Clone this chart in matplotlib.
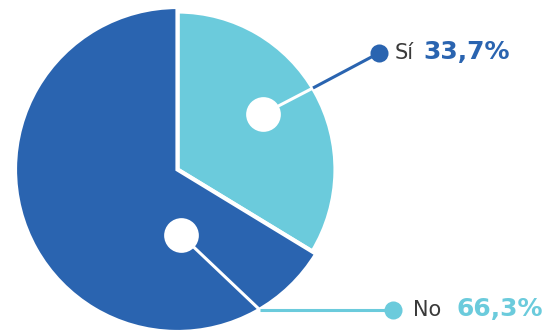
import matplotlib
matplotlib.use("Agg")
import matplotlib.pyplot as plt

# Survey answers
labels = ["Sí", "No"]
shares = [33.7, 66.3]
value_texts = ["33,7%", "66,3%"]

DARK = "#2a64b0"
LIGHT = "#6bcbdc"
GRAY = "#3a3a3a"

W, H = 552, 331
fig = plt.figure(figsize=(W / 100, H / 100), dpi=100)
ax = fig.add_axes([0, 0, 1, 1])

def py(y):
    # pixel rows measured from the top
    return H - y

cx, cy = 177.5, py(169.5)
wedges, _ = ax.pie(shares, colors=[LIGHT, DARK], startangle=90, counterclock=False,
                   center=(cx, cy), radius=162.5,
                   wedgeprops=dict(edgecolor="white", linewidth=3))
wedges[0].set_radius(158)
ax.set_xlim(0, W)
ax.set_ylim(0, H)
ax.set_aspect("equal")
ax.axis("off")

font = "DejaVu Sans"

# Sí callout
p0, p_edge, p1 = (263, py(114)), (313, py(88)), (379, py(53))
ax.plot([p0[0], p_edge[0]], [p0[1], p_edge[1]], color="white", lw=2.2, solid_capstyle="butt", zorder=3)
ax.plot([p_edge[0], p1[0]], [p_edge[1], p1[1]], color=DARK, lw=2.2, solid_capstyle="butt", zorder=3)
ax.plot(*p0, "o", ms=25, color="white", mec="none", zorder=4)
ax.plot(*p1, "o", ms=13, color=DARK, mec="none", zorder=4)
ax.text(395, py(59), labels[0], fontsize=15, color=GRAY, family=font, ha="left", va="baseline")
ax.text(423, py(59), value_texts[0], fontsize=18, color=DARK, family=font, weight="bold", ha="left", va="baseline")

# No callout
q0, q_edge, q1 = (181, py(235)), (260, py(310)), (393, py(310))
ax.plot([q0[0], q_edge[0]], [q0[1], q_edge[1]], color="white", lw=2.2, solid_capstyle="butt", zorder=3)
ax.plot([q_edge[0], q1[0]], [q_edge[1], q1[1]], color=LIGHT, lw=2.2, solid_capstyle="butt", zorder=3)
ax.plot(*q0, "o", ms=25, color="white", mec="none", zorder=4)
ax.plot(*q1, "o", ms=13, color=LIGHT, mec="none", zorder=4)
ax.text(413, py(316), labels[1], fontsize=15, color=GRAY, family=font, ha="left", va="baseline")
ax.text(457, py(316), value_texts[1], fontsize=18, color=LIGHT, family=font, weight="bold", ha="left", va="baseline")

fig.savefig("out.png", dpi=100)
